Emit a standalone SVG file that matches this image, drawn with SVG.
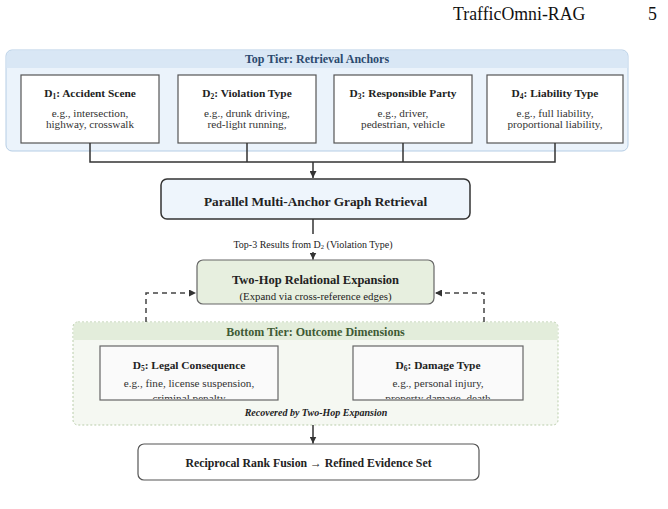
<svg xmlns="http://www.w3.org/2000/svg" width="668" height="509" viewBox="0 0 668 509" font-family="'Liberation Serif', 'Times New Roman', serif">
<defs>
<style>
text{font-family:'Liberation Serif','Times New Roman',serif;fill:#222}
.hdr{font-size:17.8px;fill:#111}
.tier{font-size:12px;font-weight:bold;text-anchor:middle}
.bt{font-size:11.4px;font-weight:bold;text-anchor:middle}
.bs{font-size:11.2px;text-anchor:middle;fill:#333}
.box{fill:#fff;stroke:#555;stroke-width:1.2}
.obox{fill:#fafafa;stroke:#666;stroke-width:1.2}
.conn{fill:none;stroke:#333;stroke-width:1.5}
.dash{fill:none;stroke:#444;stroke-width:1.5;stroke-dasharray:5 4}
</style>
<marker id="ah" viewBox="0 0 10 10" refX="10" refY="5" markerWidth="7" markerHeight="7" markerUnits="userSpaceOnUse" orient="auto">
<path d="M0,0 L10,5 L0,10 z" fill="#333"/>
</marker>
<clipPath id="c5"><rect x="100" y="346" width="178" height="53"/></clipPath>
<clipPath id="c6"><rect x="353" y="346" width="170" height="53"/></clipPath>
</defs>

<g id="page-header">
<text class="hdr" x="453" y="20">TrafficOmni-RAG</text>
<text class="hdr" x="648" y="20">5</text>
</g>

<g id="top-tier">
<rect x="6" y="50" width="622" height="101" rx="6" fill="#ebf3fb" stroke="#b5cde5" stroke-width="1"/>
<path d="M6.5,68 V56 a5.5,5.5 0 0 1 5.5,-5.5 H622 a5.5,5.5 0 0 1 5.5,5.5 V68 z" fill="#d9e7f5"/>
<text class="tier" x="317" y="63" style="fill:#2b4a6f">Top Tier: Retrieval Anchors</text>
</g>

<g id="d1">
<rect class="box" x="21" y="75" width="138" height="68"/>
<text class="bt" x="90" y="97">D<tspan font-size="7.5" dy="2">1</tspan><tspan dy="-2">: Accident Scene</tspan></text>
<text class="bs" x="90" y="116.5">e.g., intersection,</text>
<text class="bs" x="90" y="127.5">highway, crosswalk</text>
</g>
<g id="d2">
<rect class="box" x="178" y="75" width="138" height="68"/>
<text class="bt" x="247" y="97">D<tspan font-size="7.5" dy="2">2</tspan><tspan dy="-2">: Violation Type</tspan></text>
<text class="bs" x="247" y="116.5">e.g., drunk driving,</text>
<text class="bs" x="247" y="127.5">red-light running,</text>
</g>
<g id="d3">
<rect class="box" x="334" y="75" width="138" height="68"/>
<text class="bt" x="403" y="97">D<tspan font-size="7.5" dy="2">3</tspan><tspan dy="-2">: Responsible Party</tspan></text>
<text class="bs" x="403" y="116.5">e.g., driver,</text>
<text class="bs" x="403" y="127.5">pedestrian, vehicle</text>
</g>
<g id="d4">
<rect class="box" x="487" y="75" width="136" height="68"/>
<text class="bt" x="555" y="97">D<tspan font-size="7.5" dy="2">4</tspan><tspan dy="-2">: Liability Type</tspan></text>
<text class="bs" x="555" y="116.5">e.g., full liability,</text>
<text class="bs" x="555" y="127.5">proportional liability,</text>
</g>

<g id="parallel">
<rect x="161" y="179" width="309" height="40" rx="6" fill="#eef5fc" stroke="#333" stroke-width="1.5"/>
<text x="315.5" y="206" text-anchor="middle" font-size="13.3" font-weight="bold">Parallel Multi-Anchor Graph Retrieval</text>
</g>

<g id="two-hop">
<rect x="197" y="260" width="237" height="44" rx="6" fill="#e7efdf" stroke="#666" stroke-width="1.2"/>
<text x="315.5" y="283.5" text-anchor="middle" font-size="12.5" font-weight="bold">Two-Hop Relational Expansion</text>
<text x="315.5" y="299.5" text-anchor="middle" font-size="10.8" fill="#333">(Expand via cross-reference edges)</text>
</g>

<g id="bottom-tier">
<rect x="73" y="322" width="485" height="103" rx="5" fill="#f5f8f2" stroke="#b9cdaa" stroke-width="1" stroke-dasharray="2 2"/>
<path d="M73.5,340 V327 a4.5,4.5 0 0 1 4.5,-4.5 H553 a4.5,4.5 0 0 1 4.5,4.5 V340 z" fill="#e3eddb"/>
<text class="tier" x="315.5" y="336" style="fill:#3e5a34">Bottom Tier: Outcome Dimensions</text>
<text x="316" y="415.5" text-anchor="middle" font-size="10" font-weight="bold" font-style="italic" fill="#333">Recovered by Two-Hop Expansion</text>
</g>

<g id="d5">
<rect class="obox" x="100" y="346" width="178" height="54"/>
<g clip-path="url(#c5)">
<text class="bt" x="189" y="369">D<tspan font-size="7.5" dy="2">5</tspan><tspan dy="-2">: Legal Consequence</tspan></text>
<text class="bs" x="189" y="386.5">e.g., fine, license suspension,</text>
<text class="bs" x="189" y="401.5">criminal penalty</text>
</g>
</g>
<g id="d6">
<rect class="obox" x="353" y="346" width="170" height="54"/>
<g clip-path="url(#c6)">
<text class="bt" x="438" y="369">D<tspan font-size="7.5" dy="2">6</tspan><tspan dy="-2">: Damage Type</tspan></text>
<text class="bs" x="438" y="386.5">e.g., personal injury,</text>
<text class="bs" x="438" y="401.5">property damage, death</text>
</g>
</g>

<g id="final">
<rect x="138" y="444" width="341" height="36" rx="6" fill="#fff" stroke="#555" stroke-width="1.2"/>
<text x="308.5" y="467" text-anchor="middle" font-size="11.8" font-weight="bold">Reciprocal Rank Fusion → Refined Evidence Set</text>
</g>

<g id="connectors">
<path class="conn" d="M90,143 V162 M247,143 V162 M403,143 V162 M555,143 V162 M89.25,162 H555.75"/>
<path class="conn" d="M313,162 V178" marker-end="url(#ah)"/>
<path class="conn" d="M313,219 V234"/>
<text x="313" y="247.5" text-anchor="middle" font-size="10" fill="#333">Top-3 Results from D<tspan font-size="6.5" dy="1.5">2</tspan><tspan dy="-1.5"> (Violation Type)</tspan></text>
<path class="conn" d="M313,252 V259.5" marker-end="url(#ah)"/>
<path class="dash" d="M146,322 V293 H196" marker-end="url(#ah)"/>
<path class="dash" d="M484,322 V293 H435" marker-end="url(#ah)"/>
<path class="conn" d="M313,425 V443.5" marker-end="url(#ah)"/>
</g>
</svg>
